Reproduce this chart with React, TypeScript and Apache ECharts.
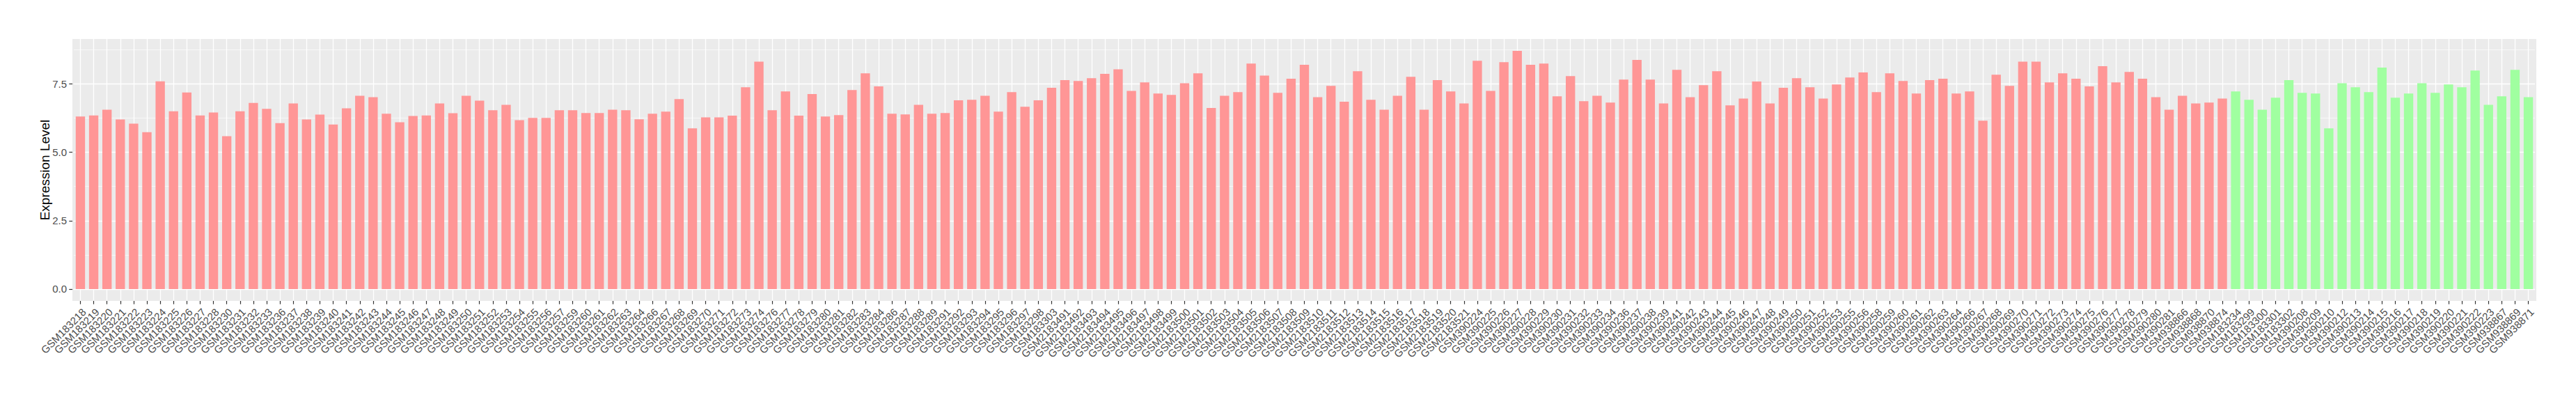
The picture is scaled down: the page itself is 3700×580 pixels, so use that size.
import React, { useEffect, useRef } from "react";
import * as echarts from "echarts";

// ---- data ----
const tumorSamples = [
  "GSM183218","GSM183219","GSM183220","GSM183221","GSM183222","GSM183223","GSM183224","GSM183225","GSM183226","GSM183227",
  "GSM183228","GSM183230","GSM183231","GSM183232","GSM183233","GSM183236","GSM183237","GSM183238","GSM183239","GSM183240",
  "GSM183241","GSM183242","GSM183243","GSM183244","GSM183245","GSM183246","GSM183247","GSM183248","GSM183249","GSM183250",
  "GSM183251","GSM183252","GSM183253","GSM183254","GSM183255","GSM183256","GSM183257","GSM183259","GSM183260","GSM183261",
  "GSM183262","GSM183263","GSM183264","GSM183266","GSM183267","GSM183268","GSM183269","GSM183270","GSM183271","GSM183272",
  "GSM183273","GSM183274","GSM183276","GSM183277","GSM183278","GSM183279","GSM183280","GSM183281","GSM183282","GSM183283",
  "GSM183284","GSM183286","GSM183287","GSM183288","GSM183289","GSM183291","GSM183292","GSM183293","GSM183294","GSM183295",
  "GSM183296","GSM183297","GSM183298","GSM183303",
  "GSM2183491","GSM2183492","GSM2183493","GSM2183494","GSM2183495","GSM2183496","GSM2183497","GSM2183498","GSM2183499","GSM2183500",
  "GSM2183501","GSM2183502","GSM2183503","GSM2183504","GSM2183505","GSM2183506","GSM2183507","GSM2183508","GSM2183509","GSM2183510",
  "GSM2183511","GSM2183512","GSM2183513","GSM2183514","GSM2183515","GSM2183516","GSM2183517","GSM2183518","GSM2183519","GSM2183520",
  "GSM2183521",
  "GSM390224","GSM390225","GSM390226","GSM390227","GSM390228","GSM390229","GSM390230","GSM390231","GSM390232","GSM390233",
  "GSM390234","GSM390236","GSM390237","GSM390238","GSM390239","GSM390241","GSM390242","GSM390243","GSM390244","GSM390245",
  "GSM390246","GSM390247","GSM390248","GSM390249","GSM390250","GSM390251","GSM390252","GSM390253","GSM390255","GSM390256",
  "GSM390258","GSM390259","GSM390260","GSM390261","GSM390262","GSM390263","GSM390264","GSM390266","GSM390267","GSM390268",
  "GSM390269","GSM390270","GSM390271","GSM390272","GSM390273","GSM390274","GSM390275","GSM390276","GSM390277","GSM390278",
  "GSM390279","GSM390280","GSM390281",
  "GSM938866","GSM938868","GSM938870","GSM938874",
];

const tumorValues = [
  6.31, 6.35, 6.56, 6.20, 6.05, 5.74, 7.60, 6.50, 7.19, 6.35,
  6.46, 5.59, 6.50, 6.81, 6.59, 6.07, 6.79, 6.20, 6.38, 6.02,
  6.61, 7.07, 7.02, 6.41, 6.10, 6.33, 6.35, 6.79, 6.43, 7.07,
  6.89, 6.54, 6.74, 6.18, 6.26, 6.26, 6.54, 6.54, 6.44, 6.44,
  6.56, 6.54, 6.21, 6.41, 6.49, 6.95, 5.88, 6.28, 6.28, 6.34,
  7.38, 8.32, 6.54, 7.23, 6.34, 7.13, 6.31, 6.36, 7.28, 7.89,
  7.41, 6.41, 6.39, 6.74, 6.41, 6.44, 6.90, 6.92, 7.07, 6.49,
  7.20, 6.67, 6.90, 7.36,
  7.64, 7.61, 7.71, 7.87, 8.04, 7.25, 7.56, 7.15, 7.10, 7.53,
  7.89, 6.62, 7.07, 7.20, 8.25, 7.81, 7.18, 7.69, 8.20, 7.02,
  7.43, 6.85, 7.97, 6.92, 6.56, 7.07, 7.76, 6.56, 7.64, 7.23,
  6.79,
  8.35, 7.25, 8.30, 8.71, 8.20, 8.25, 7.05, 7.79, 6.87, 7.07,
  6.82, 7.66, 8.38, 7.66, 6.79, 8.02, 7.02, 7.46, 7.97, 6.72,
  6.97, 7.59, 6.79, 7.36, 7.71, 7.38, 6.97, 7.48, 7.74, 7.92,
  7.20, 7.89, 7.61, 7.15, 7.64, 7.69, 7.15, 7.23, 6.16, 7.84,
  7.43, 8.32, 8.32, 7.56, 7.89, 7.69, 7.41, 8.15, 7.56, 7.94,
  7.69, 7.02, 6.56,
  7.07, 6.79, 6.82, 6.97,
];

const normalSamples = [
  "GSM183234","GSM183299","GSM183300","GSM183301","GSM183302",
  "GSM390208","GSM390209","GSM390210","GSM390212","GSM390213","GSM390214","GSM390215","GSM390216","GSM390217","GSM390218",
  "GSM390219","GSM390220","GSM390221","GSM390222","GSM390223",
  "GSM938867","GSM938869","GSM938871",
];

const normalValues = [
  7.23, 6.92, 6.56, 7.00, 7.64,
  7.18, 7.15, 5.88, 7.53, 7.38, 7.20, 8.10, 7.00, 7.15, 7.53,
  7.18, 7.48, 7.38, 7.99, 6.74,
  7.05, 8.02, 7.02,
];

const yTicks = [0, 2.5, 5, 7.5];
const yAxisTitle = "Expression Level";

// ---- styling / layout ----
const TUMOR_COLOR = "#FF9696";
const NORMAL_COLOR = "#A0FFA0";
const PANEL_BG = "#EBEBEB";
const FONT = "'Liberation Sans', Arial, sans-serif";
const PANEL_L = 104;
const PANEL_R = 3643;
const PANEL_T = 56;
const PANEL_B = 432;

export default function App() {
  const ref = useRef<HTMLDivElement>(null);

  useEffect(() => {
    document.body.style.margin = "0";
    const chart = echarts.init(ref.current!, null, { renderer: "svg" });

    const categories = [...tumorSamples, ...normalSamples];
    const barData = [
      ...tumorValues.map((v) => ({ value: v, itemStyle: { color: TUMOR_COLOR } })),
      ...normalValues.map((v) => ({ value: v, itemStyle: { color: NORMAL_COLOR } })),
    ];
    const n = categories.length;
    const maxV = Math.max(...tumorValues, ...normalValues);
    const lo = -0.05 * maxV;
    const hi = 1.05 * maxV;
    const unit = (PANEL_B - PANEL_T) / (hi - lo);
    const y0 = PANEL_B + lo * unit;
    const step = (PANEL_R - PANEL_L) / (n - 1 + 1.2);
    const yTop = yTicks[yTicks.length - 1] + (yTicks[1] - yTicks[0]);

    const option: any = {
      animation: false,
      graphic: [
        {
          type: "rect",
          z: -10,
          silent: true,
          shape: { x: PANEL_L, y: PANEL_T, width: PANEL_R - PANEL_L, height: PANEL_B - PANEL_T },
          style: { fill: PANEL_BG },
        },
      ],
      grid: [
        {
          left: PANEL_L + 0.6 * step,
          width: (n - 1) * step,
          top: PANEL_T,
          height: PANEL_B - PANEL_T,
          containLabel: false,
          outerBoundsMode: "none",
        },
        {
          left: PANEL_L + 0.1 * step,
          width: n * step,
          top: y0 - yTop * unit,
          height: yTop * unit,
          containLabel: false,
          outerBoundsMode: "none",
        },
      ],
      xAxis: [
        {
          gridIndex: 0,
          type: "category",
          boundaryGap: false,
          data: categories,
          axisLine: { show: false },
          axisTick: { show: true, interval: 0, length: 4.7, lineStyle: { color: "#333333", width: 1.2 } },
          axisLabel: {
            interval: 0,
            rotate: 45,
            fontSize: 15,
            color: "#4D4D4D",
            fontFamily: FONT,
            margin: 8,
            align: "right",
            verticalAlign: "top",
          },
          splitLine: { show: true, interval: 0, lineStyle: { color: "#FFFFFF", width: 1.3 } },
        },
        {
          gridIndex: 1,
          type: "category",
          data: categories,
          show: false,
        },
      ],
      yAxis: [
        {
          gridIndex: 0,
          type: "value",
          min: 0,
          max: 1,
          name: yAxisTitle,
          nameLocation: "middle",
          nameRotate: 90,
          nameGap: 41,
          nameTextStyle: { fontSize: 19, color: "#000000", fontFamily: FONT, fontWeight: "normal" },
          axisLine: { show: false },
          axisTick: { show: false },
          axisLabel: { show: false },
          splitLine: { show: false },
        },
        {
          gridIndex: 1,
          type: "value",
          min: 0,
          max: yTop,
          interval: yTicks[1] - yTicks[0],
          offset: 0.1 * step,
          axisLine: { show: false },
          axisTick: {
            show: true,
            length: 4.7,
            customValues: yTicks,
            lineStyle: { color: "#333333", width: 1.2 },
          },
          axisLabel: {
            customValues: yTicks,
            fontSize: 15,
            color: "#4D4D4D",
            fontFamily: FONT,
            margin: 8,
            formatter: (v: number) => (v > yTicks[yTicks.length - 1] ? "" : v.toFixed(1)),
          },
          splitLine: { show: true, lineStyle: { color: "#FFFFFF", width: 1.3 } },
          minorTick: { show: false, splitNumber: 2 },
          minorSplitLine: { show: true, lineStyle: { color: "#FFFFFF", width: 0.65 } },
        },
      ],
      series: [
        {
          type: "bar",
          xAxisIndex: 1,
          yAxisIndex: 1,
          data: barData,
          barWidth: "70%",
          z: 5,
        },
      ],
    };

    chart.setOption(option);
    return () => chart.dispose();
  }, []);

  return <div ref={ref} style={{ width: 3700, height: 580 }} />;
}
